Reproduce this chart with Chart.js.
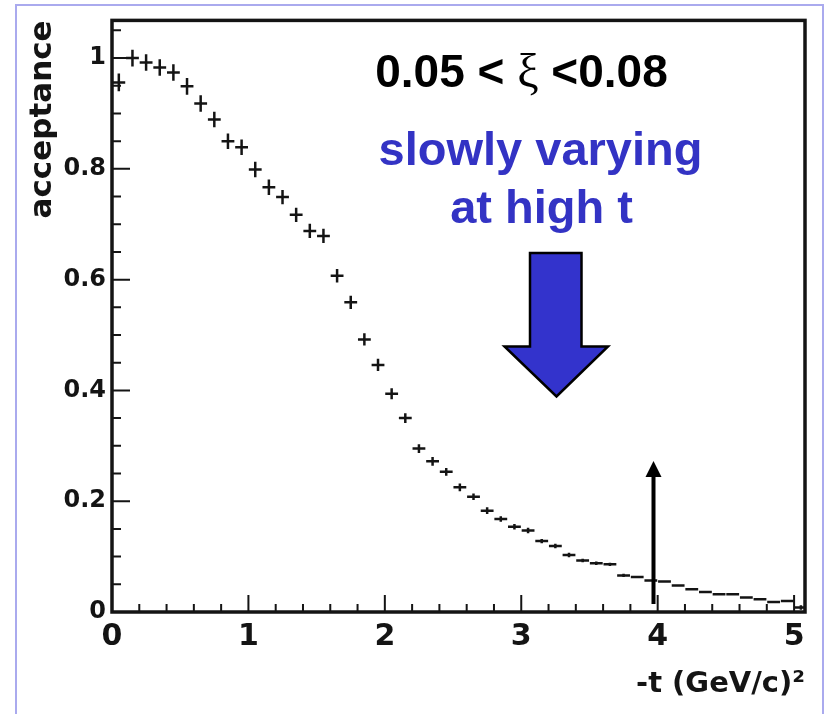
<!DOCTYPE html>
<html><head><meta charset="utf-8">
<script src="https://cdn.jsdelivr.net/npm/chart.js@4.4.1/dist/chart.umd.min.js"></script>
<style>html,body{margin:0;padding:0;background:#fff;}canvas{display:block}</style>
</head><body>
<canvas id="c" width="825" height="714"></canvas>
<script>
// ---- data ----
const tCenters = [0.05,0.15,0.25,0.35,0.45,0.55,0.65,0.75,0.85,0.95,
  1.05,1.15,1.25,1.35,1.45,1.55,1.65,1.75,1.85,1.95,
  2.05,2.15,2.25,2.35,2.45,2.55,2.65,2.75,2.85,2.95,
  3.05,3.15,3.25,3.35,3.45,3.55,3.65,3.75,3.85,3.95,
  4.05,4.15,4.25,4.35,4.45,4.55,4.65,4.75,4.85,4.95,5.05];
const acceptance = [0.956,1.000,0.992,0.983,0.974,0.949,0.918,0.889,0.850,0.839,
  0.799,0.767,0.749,0.717,0.688,0.679,0.607,0.559,0.492,0.446,
  0.394,0.350,0.295,0.272,0.253,0.225,0.208,0.183,0.168,0.154,
  0.147,0.128,0.119,0.103,0.093,0.088,0.086,0.066,0.063,0.057,
  0.055,0.048,0.041,0.036,0.032,0.032,0.026,0.023,0.018,0.020,0.008];
const errors = [0.016,0.015,0.015,0.015,0.015,0.015,0.015,0.014,0.014,0.014,
  0.014,0.014,0.013,0.013,0.013,0.013,0.012,0.012,0.011,0.011,
  0.010,0.009,0.008,0.008,0.007,0.007,0.006,0.006,0.005,0.005,
  0.005,0.004,0.004,0.004,0.003,0.003,0.003,0.003,0.002,0.002,
  0.002,0.002,0.002,0.002,0.002,0.002,0.002,0.002,0.002,0.002,0.004];
const xTickValues = [0,1,2,3,4,5];
const yTickValues = [0,0.2,0.4,0.6,0.8,1];
const xAxisTitle = '-t (GeV/c)²';
const yAxisTitle = 'acceptance';
const rangeLabelParts = ['0.05 < ', 'ξ', ' <0.08'];
const noteLines = ['slowly varying', 'at high t'];

// ---- styling ----
const BIN_HALF = 0.047;
const INK = '#141414';
const BLUE = '#3333c4';

const framePlugin = {
  id: 'rootFrame',
  beforeDraw(chart) {
    const ctx = chart.ctx;
    ctx.save();
    ctx.fillStyle = '#fff';
    ctx.fillRect(0, 0, chart.width, chart.height);
    ctx.strokeStyle = '#aaaaee';
    ctx.lineWidth = 2;
    ctx.beginPath();
    ctx.moveTo(16, 720); ctx.lineTo(16, 5); ctx.lineTo(823, 5); ctx.lineTo(823, 720);
    ctx.stroke();
    ctx.restore();
  },
  afterDatasetsDraw(chart) {
    const {ctx, chartArea: ca, scales: {x: xs, y: ys}} = chart;
    ctx.save();
    ctx.beginPath();
    ctx.rect(ca.left, ca.top, ca.right - ca.left, ca.bottom - ca.top);
    ctx.clip();
    ctx.strokeStyle = INK;
    ctx.lineWidth = 2.5;
    ctx.beginPath();
    tCenters.forEach((t, i) => {
      const v = acceptance[i], e = errors[i];
      const px = xs.getPixelForValue(t), py = ys.getPixelForValue(v);
      ctx.moveTo(xs.getPixelForValue(t - BIN_HALF), py);
      ctx.lineTo(xs.getPixelForValue(t + BIN_HALF), py);
      ctx.moveTo(px, ys.getPixelForValue(v + e));
      ctx.lineTo(px, ys.getPixelForValue(v - e));
    });
    ctx.stroke();
    ctx.restore();
  },
  afterDraw(chart) {
    const {ctx, chartArea: ca, scales: {x: xs, y: ys}} = chart;
    ctx.save();
    // inside ticks
    ctx.strokeStyle = INK;
    ctx.lineWidth = 2;
    ctx.beginPath();
    for (let k = 0; k <= 21; k++) {
      const v = k * 0.05;
      if (v > ys.max) break;
      const py = ys.getPixelForValue(v);
      const len = (k % 4 === 0) ? 18 : 9;
      ctx.moveTo(ca.left, py); ctx.lineTo(ca.left + len, py);
    }
    for (let k = 0; k <= 25; k++) {
      const t = k * 0.2;
      if (t > xs.max) break;
      const px = xs.getPixelForValue(t);
      const len = (k % 5 === 0) ? 17 : 8;
      ctx.moveTo(px, ca.bottom); ctx.lineTo(px, ca.bottom - len);
    }
    ctx.stroke();
    // frame
    ctx.lineWidth = 3.5;
    ctx.strokeStyle = INK;
    ctx.strokeRect(ca.left, ca.top, ca.right - ca.left, ca.bottom - ca.top);

    // black arrow
    ctx.fillStyle = '#000';
    ctx.strokeStyle = '#000';
    ctx.lineWidth = 4;
    ctx.beginPath();
    ctx.moveTo(653.5, 604); ctx.lineTo(653.5, 474);
    ctx.stroke();
    ctx.beginPath();
    ctx.moveTo(653.5, 461); ctx.lineTo(661.5, 477); ctx.lineTo(645.5, 477); ctx.closePath();
    ctx.fill();

    // blue block arrow
    ctx.fillStyle = '#3333cc';
    ctx.strokeStyle = '#000';
    ctx.lineWidth = 2.5;
    ctx.lineJoin = 'miter';
    ctx.beginPath();
    ctx.moveTo(530, 253); ctx.lineTo(581.5, 253); ctx.lineTo(581.5, 346.5);
    ctx.lineTo(608, 346.5); ctx.lineTo(556.5, 396.5); ctx.lineTo(504.5, 346.5);
    ctx.lineTo(530, 346.5); ctx.closePath();
    ctx.fill(); ctx.stroke();

    // range label, with a serif xi
    const fontSans = 'bold 46px "Liberation Sans", Arial, sans-serif';
    const fontXi = '48px "Liberation Serif", "DejaVu Serif", serif';
    const fonts = [fontSans, fontXi, fontSans];
    const widths = rangeLabelParts.map((p, i) => { ctx.font = fonts[i]; return ctx.measureText(p).width; });
    const total = widths.reduce((a, b) => a + b, 0);
    let cx = 521.5 - total / 2;
    ctx.textAlign = 'left';
    ctx.textBaseline = 'alphabetic';
    ctx.fillStyle = '#000';
    rangeLabelParts.forEach((p, i) => {
      ctx.font = fonts[i];
      ctx.fillText(p, cx, 86.5);
      cx += widths[i];
    });

    ctx.textAlign = 'center';
    ctx.fillStyle = BLUE;
    ctx.font = 'bold 47px "Liberation Sans", Arial, sans-serif';
    ctx.fillText(noteLines[0], 540.5, 165);
    ctx.fillText(noteLines[1], 541.5, 223);
    ctx.restore();
  }
};

new Chart(document.getElementById('c'), {
  type: 'scatter',
  data: {
    datasets: [{
      data: tCenters.map((t, i) => ({x: t, y: acceptance[i]})),
      pointRadius: 0,
      showLine: false
    }]
  },
  options: {
    responsive: false,
    animation: false,
    devicePixelRatio: 1,
    layout: {padding: {left: 0, right: 20, top: 16, bottom: 0}},
    plugins: {legend: {display: false}, tooltip: {enabled: false}},
    scales: {
      x: {
        type: 'linear', min: 0, max: 5.08,
        grid: {display: false, drawTicks: false},
        border: {display: false},
        afterBuildTicks: s => { s.ticks = xTickValues.map(v => ({value: v})); },
        afterFit: s => { s.height = 102; },
        ticks: {
          color: INK, padding: 7,
          font: {family: '"DejaVu Sans"', weight: 'bold', size: 30},
          callback: v => String(v)
        },
        title: {
          display: true, text: xAxisTitle, align: 'end', color: INK,
          font: {family: '"DejaVu Sans"', weight: 'bold', size: 29},
          padding: {top: 0, bottom: 12}
        }
      },
      y: {
        type: 'linear', min: 0, max: 1.068,
        grid: {display: false, drawTicks: false},
        border: {display: false},
        afterBuildTicks: s => { s.ticks = yTickValues.map(v => ({value: v})); },
        afterFit: s => { s.width = 112; },
        ticks: {
          color: INK, padding: 6,
          font: {family: '"DejaVu Sans"', weight: 'bold', size: 24},
          callback: v => String(v)
        },
        title: {
          display: true, text: yAxisTitle, align: 'end', color: INK,
          font: {family: '"DejaVu Sans"', weight: 'bold', size: 31},
          padding: {top: 24, bottom: 0}
        }
      }
    }
  },
  plugins: [framePlugin]
});
</script>
</body></html>
